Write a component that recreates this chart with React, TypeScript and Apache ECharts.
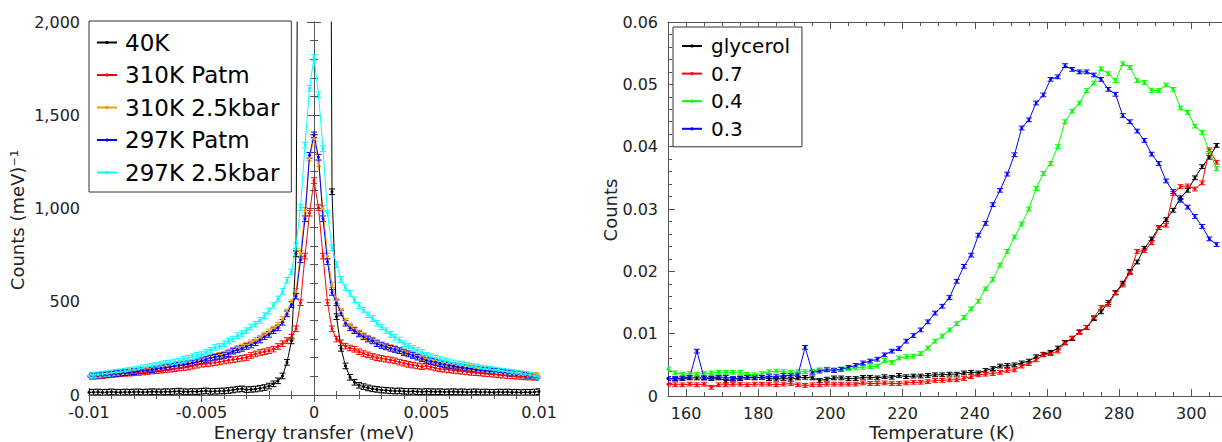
import React, { useEffect, useRef } from "react";
import * as echarts from "echarts";

// ---------- Left panel data ----------
const ENERGY = [
  -0.01, -0.0098, -0.0096, -0.0094, -0.0092, -0.009, -0.0088, -0.0086, -0.0084, -0.0082,
  -0.008, -0.0078, -0.0076, -0.0074, -0.0072, -0.007, -0.0068, -0.0066, -0.0064, -0.0062,
  -0.006, -0.0058, -0.0056, -0.0054, -0.0052, -0.005, -0.0048, -0.0046, -0.0044, -0.0042,
  -0.004, -0.0038, -0.0036, -0.0034, -0.0032, -0.003, -0.0028, -0.0026, -0.0024, -0.0022,
  -0.002, -0.0018, -0.0016, -0.0014, -0.0012, -0.001, -0.0008, -0.0006, -0.0004, -0.0002,
  0,
  0.0002, 0.0004, 0.0006, 0.0008, 0.001, 0.0012, 0.0014, 0.0016, 0.0018, 0.002,
  0.0022, 0.0024, 0.0026, 0.0028, 0.003, 0.0032, 0.0034, 0.0036, 0.0038, 0.004,
  0.0042, 0.0044, 0.0046, 0.0048, 0.005, 0.0052, 0.0054, 0.0056, 0.0058, 0.006,
  0.0062, 0.0064, 0.0066, 0.0068, 0.007, 0.0072, 0.0074, 0.0076, 0.0078, 0.008,
  0.0082, 0.0084, 0.0086, 0.0088, 0.009, 0.0092, 0.0094, 0.0096, 0.0098, 0.01,
];

const K40 = [
  14, 15, 16, 14, 15, 17, 15, 14, 16, 15, 16, 17, 15, 16, 18, 17, 16, 18, 17, 19,
  21, 18, 17, 19, 18, 20, 22, 19, 20, 21, 22, 24, 27, 31, 33, 29, 30, 32, 36, 40,
  48, 60, 76, 102, 175, 290, 757, 5500, 14000, 24000,
  30000,
  25000, 16000, 7000, 1090, 420, 250, 156, 95, 68, 52, 45, 38, 33, 30, 27, 25, 23, 21, 22, 20,
  19, 20, 18, 17, 19, 18, 17, 18, 16, 17, 18, 16, 17, 15, 16, 17, 15, 16, 15, 14,
  16, 15, 16, 14, 15, 13, 15, 14, 16, 18,
];

const K310_PATM = [
  98, 100, 102, 104, 107, 110, 112, 114, 116, 117, 119, 121, 123, 126, 129, 130, 133, 136, 138, 141,
  145, 147, 150, 155, 160, 165, 167, 170, 174, 177, 182, 186, 190, 193, 197, 201, 212, 220, 228, 232,
  238, 246, 260, 275, 292, 310, 355, 495, 745, 975,
  1150,
  1005, 745, 495, 355, 300, 280, 262, 252, 245, 232, 222, 215, 207, 200, 196, 192, 188, 183, 176, 170,
  164, 160, 156, 152, 156, 150, 145, 140, 138, 135, 132, 129, 127, 124, 121, 120, 118, 115, 113, 111,
  108, 106, 104, 103, 101, 99, 97, 96, 95, 93,
];

const K310_25KBAR = [
  100, 103, 106, 109, 111, 113, 116, 118, 121, 124, 126, 129, 132, 135, 138, 141, 145, 148, 152, 157,
  160, 165, 170, 174, 180, 187, 193, 200, 207, 213, 220, 230, 240, 250, 258, 268, 280, 292, 305, 322,
  338, 355, 375, 405, 445, 495, 555, 760, 990, 1270,
  1375,
  1240, 1000, 745, 590, 505, 450, 395, 370, 350, 333, 318, 305, 295, 282, 270, 262, 255, 248, 240, 232,
  225, 216, 208, 200, 192, 186, 180, 174, 168, 163, 159, 155, 152, 148, 145, 141, 138, 135, 131, 130,
  127, 124, 121, 118, 116, 113, 110, 107, 105, 104,
];

const K297_PATM = [
  102, 104, 105, 108, 110, 112, 115, 117, 120, 122, 125, 128, 131, 133, 136, 140, 143, 146, 150, 155,
  158, 162, 167, 172, 178, 183, 190, 198, 203, 208, 213, 222, 235, 242, 250, 260, 268, 280, 295, 312,
  325, 345, 360, 390, 435, 485, 530, 725, 945, 1285,
  1395,
  1275, 945, 715, 550, 495, 440, 385, 360, 345, 327, 312, 300, 290, 275, 265, 258, 250, 244, 237, 227,
  220, 212, 203, 195, 185, 180, 175, 168, 163, 158, 155, 150, 147, 143, 140, 135, 133, 130, 128, 127,
  125, 121, 118, 115, 113, 110, 106, 103, 99, 94,
];

const K297_25KBAR = [
  102, 105, 108, 112, 114, 118, 122, 125, 128, 132, 136, 140, 146, 150, 155, 158, 163, 170, 172, 177,
  182, 190, 197, 205, 212, 220, 230, 240, 255, 262, 275, 290, 300, 318, 330, 345, 365, 380, 400, 425,
  450, 480, 515, 555, 615, 660, 800, 1005, 1340, 1645,
  1810,
  1610, 1320, 975, 790, 700, 620, 575, 545, 510, 480, 455, 430, 410, 385, 365, 345, 325, 310, 295, 275,
  262, 250, 240, 228, 212, 205, 197, 190, 184, 178, 172, 167, 163, 158, 154, 150, 145, 141, 138, 134,
  130, 127, 124, 120, 117, 113, 110, 106, 101, 95,
];

const LEFT_NAMES = ["40K", "310K Patm", "310K 2.5kbar", "297K Patm", "297K 2.5kbar"];
const LEFT_ERR = 15;

// ---------- Right panel data ----------
const TEMPS = [
  155, 157, 159, 161, 163, 165, 167, 169, 171, 173, 175, 177, 179, 181, 183, 185, 187, 189, 191, 193,
  195, 197, 199, 201, 203, 205, 207, 209, 211, 213, 215, 217, 219, 221, 223, 225, 227, 229, 231, 233,
  235, 237, 239, 241, 243, 245, 247, 249, 251, 253, 255, 257, 259, 261, 263, 265, 267, 269, 271, 273,
  275, 277, 279, 281, 283, 285, 287, 289, 291, 293, 295, 297, 299, 301, 303, 305, 307,
];

const GLYCEROL = [
  0.0028, 0.0027, 0.0028, 0.0029, 0.0029, 0.0029, 0.0028, 0.0029, 0.0024, 0.0027,
  0.0028, 0.003, 0.0029, 0.003, 0.0028, 0.0027, 0.0028, 0.0027, 0.0029, 0.003,
  0.0029, 0.0025, 0.0027, 0.0029, 0.0029, 0.0028, 0.0028, 0.003, 0.003, 0.0029,
  0.0031, 0.003, 0.0033, 0.0031, 0.0032, 0.0032, 0.0033, 0.0034, 0.0034, 0.0035,
  0.0035, 0.0037, 0.0038, 0.0037, 0.0041, 0.0044, 0.0048, 0.0049, 0.005, 0.0053,
  0.0056, 0.0063, 0.0067, 0.007, 0.0077, 0.0086, 0.0092, 0.0103, 0.011, 0.0124,
  0.0135, 0.015, 0.0166, 0.0181, 0.02, 0.0215, 0.0237, 0.0252, 0.027, 0.0283,
  0.0298, 0.0318, 0.033, 0.035, 0.0368, 0.0383, 0.0402,
];

const C07 = [
  0.0019, 0.0018, 0.0018, 0.0019, 0.0018, 0.0019, 0.0014, 0.0018, 0.0018, 0.0019,
  0.0019, 0.0018, 0.0019, 0.0019, 0.0019, 0.0018, 0.0019, 0.002, 0.0018, 0.0017,
  0.0018, 0.0018, 0.0019, 0.0019, 0.0019, 0.0019, 0.0019, 0.0021, 0.002, 0.002,
  0.0021, 0.002, 0.002, 0.0021, 0.0022, 0.0022, 0.0023, 0.0025, 0.0025, 0.0026,
  0.0026, 0.0028, 0.0031, 0.0034, 0.0035, 0.0036, 0.0038, 0.0041, 0.0042, 0.0048,
  0.0052, 0.0058, 0.0066, 0.0068, 0.0072, 0.0085, 0.0093, 0.0102, 0.011, 0.0126,
  0.0142, 0.0147, 0.0165, 0.0178, 0.0198, 0.0232, 0.0233, 0.0246, 0.027, 0.0274,
  0.0325, 0.0336, 0.0337, 0.0332, 0.0342, 0.0395, 0.0375,
];

const C04 = [
  0.0043, 0.0037, 0.0035, 0.0036, 0.0035, 0.0036, 0.0037, 0.0038, 0.0038, 0.0038,
  0.0038, 0.0035, 0.0034, 0.0036, 0.0039, 0.004, 0.0039, 0.0038, 0.0039, 0.0039,
  0.004, 0.0042, 0.0043, 0.0042, 0.0043, 0.0044, 0.0045, 0.0046, 0.0047, 0.0048,
  0.0057, 0.0054, 0.0061, 0.0063, 0.0064, 0.0068, 0.0077, 0.0088, 0.0096, 0.0106,
  0.0116, 0.0126, 0.014, 0.0152, 0.0172, 0.0187, 0.021, 0.0232, 0.0255, 0.0276,
  0.03, 0.0333, 0.0357, 0.0373, 0.04, 0.044, 0.0457, 0.047, 0.049, 0.0502,
  0.0525, 0.0517, 0.0506, 0.0533, 0.0527, 0.0506, 0.0503, 0.049, 0.049, 0.0499,
  0.0492, 0.0462, 0.0455, 0.0433, 0.0423, 0.0392, 0.0365,
];

const C03 = [
  0.0028, 0.0028, 0.0029, 0.003, 0.0072, 0.0029, 0.0029, 0.003, 0.003, 0.0028,
  0.0029, 0.003, 0.003, 0.003, 0.0031, 0.0031, 0.0033, 0.0033, 0.0034, 0.0078,
  0.0038, 0.004, 0.0042, 0.0041, 0.0043, 0.0046, 0.0049, 0.0053, 0.0056, 0.0059,
  0.0066, 0.0072, 0.0076, 0.0088, 0.0097, 0.0106, 0.0119, 0.0133, 0.0144, 0.0158,
  0.0184, 0.0208, 0.0226, 0.0258, 0.0277, 0.0307, 0.033, 0.0356, 0.0387, 0.043,
  0.0443, 0.047, 0.0483, 0.0508, 0.0512, 0.053, 0.0524, 0.052, 0.052, 0.0515,
  0.0508, 0.0492, 0.0484, 0.045, 0.044, 0.0425, 0.041, 0.0388, 0.0373, 0.0345,
  0.0328, 0.0314, 0.0303, 0.0288, 0.0272, 0.0252, 0.0243,
];

const RIGHT_NAMES = ["glycerol", "0.7", "0.4", "0.3"];
const RIGHT_ERR = 0.0003;
const TEMP_MAJOR = [160, 180, 200, 220, 240, 260, 280, 300];

const FONT = "DejaVu Sans";
const AXIS_COLOR = "#555";
const TEXT_COLOR = "#222";

function lineSeries(name: string, xs: number[], ys: number[], color: string, xi: number, yi: number) {
  return {
    type: "line",
    name,
    xAxisIndex: xi,
    yAxisIndex: yi,
    data: xs.map((x, i) => [x, ys[i]]),
    symbol: "circle",
    symbolSize: 3,
    showSymbol: true,
    clip: true,
    lineStyle: { width: 1, color },
    itemStyle: { color },
    emphasis: { disabled: true },
    silent: true,
  };
}

function errSeries(name: string, xs: number[], ys: number[], err: number, color: string, xi: number, yi: number) {
  return {
    type: "custom",
    name: name + " error",
    xAxisIndex: xi,
    yAxisIndex: yi,
    clip: true,
    silent: true,
    data: xs.map((x, i) => [x, ys[i], err]),
    encode: { x: 0, y: 1 },
    renderItem: (params: any, api: any) => {
      const x = api.value(0);
      const y = api.value(1);
      const e = api.value(2);
      const top = api.coord([x, y + e]);
      const bot = api.coord([x, y - e]);
      const w = 3;
      const st = { stroke: color, lineWidth: 1 };
      return {
        type: "group",
        children: [
          { type: "line", shape: { x1: top[0], y1: top[1], x2: bot[0], y2: bot[1] }, style: st },
          { type: "line", shape: { x1: top[0] - w, y1: top[1], x2: top[0] + w, y2: top[1] }, style: st },
          { type: "line", shape: { x1: bot[0] - w, y1: bot[1], x2: bot[0] + w, y2: bot[1] }, style: st },
        ],
      };
    },
  };
}

const tickStyle = { color: AXIS_COLOR, width: 1 };
const labelStyle = { color: TEXT_COLOR, fontSize: 16, lineHeight: 16, fontFamily: FONT };

export default function App() {
  const ref = useRef<HTMLDivElement>(null);
  useEffect(() => {
    if (!ref.current) return;
    const chart = echarts.init(ref.current, undefined, { renderer: "svg" });

    const leftColors = ["#000000", "#ff0000", "#ff9900", "#0000ff", "#00ffff"];
    const leftData = [K40, K310_PATM, K310_25KBAR, K297_PATM, K297_25KBAR];
    const rightColors = ["#000000", "#ff0000", "#00ff00", "#0000ff"];
    const rightData = [GLYCEROL, C07, C04, C03];

    const series: any[] = [];
    leftData.forEach((d, i) => {
      series.push(lineSeries(LEFT_NAMES[i], ENERGY, d, leftColors[i], 0, 0));
      series.push(errSeries(LEFT_NAMES[i], ENERGY, d, LEFT_ERR, leftColors[i], 0, 0));
    });
    rightData.forEach((d, i) => {
      series.push(lineSeries(RIGHT_NAMES[i], TEMPS, d, rightColors[i], 2, 2));
      series.push(errSeries(RIGHT_NAMES[i], TEMPS, d, RIGHT_ERR, rightColors[i], 2, 2));
    });

    const leftX = (position: string, showLabel: boolean) => ({
      type: "value",
      gridIndex: 0,
      position,
      min: -0.01,
      max: 0.01,
      interval: 0.005,
      axisLine: { show: true, lineStyle: tickStyle },
      axisTick: { show: true, inside: true, length: 7, lineStyle: tickStyle },
      minorTick: { show: true, splitNumber: 5, length: 4, lineStyle: tickStyle },
      splitLine: { show: false },
      axisLabel: {
        show: showLabel,
        ...labelStyle,
        margin: 9,
        formatter: (v: number) => (v === 0 ? "0" : String(+v.toFixed(3))),
      },
    });
    const leftY = (position: string, showLabel: boolean) => ({
      type: "value",
      gridIndex: 0,
      position,
      min: 0,
      max: 2000,
      interval: 500,
      axisLine: { show: true, lineStyle: tickStyle },
      axisTick: { show: true, inside: true, length: 7, lineStyle: tickStyle },
      minorTick: { show: true, splitNumber: 5, length: 4, lineStyle: tickStyle },
      splitLine: { show: false },
      axisLabel: {
        show: showLabel,
        ...labelStyle,
        margin: 9,
        formatter: (v: number) => v.toLocaleString("en-US"),
      },
    });
    const rightXMinor = (position: string) => ({
      type: "value",
      gridIndex: 1,
      position,
      min: 155,
      max: 308.5,
      interval: 5,
      axisLine: { show: true, lineStyle: tickStyle },
      axisTick: { show: true, inside: true, length: 4, lineStyle: tickStyle },
      splitLine: { show: false },
      axisLabel: { show: false },
    });
    const rightXMajor = (position: string, showLabel: boolean) => ({
      type: "value",
      gridIndex: 1,
      position,
      min: 155,
      max: 308.5,
      axisLine: { show: false },
      axisTick: { show: true, inside: true, length: 7, lineStyle: tickStyle, customValues: TEMP_MAJOR },
      splitLine: { show: false },
      axisLabel: { show: showLabel, ...labelStyle, margin: 9, customValues: TEMP_MAJOR },
    });

    const option: any = {
      animation: false,
      textStyle: { fontFamily: FONT },
      grid: [
        { left: 89, top: 22, width: 450, height: 373 },
        { left: 668, top: 22, width: 556, height: 374 },
      ],
      xAxis: [
        leftX("bottom", true),
        leftX("top", false),
        rightXMinor("bottom"),
        rightXMinor("top"),
        rightXMajor("bottom", true),
        rightXMajor("top", false),
      ],
      yAxis: [
        leftY("left", true),
        leftY("right", false),
        {
          type: "value",
          gridIndex: 1,
          position: "left",
          min: 0,
          max: 0.06,
          interval: 0.01,
          axisLine: { show: true, lineStyle: tickStyle },
          axisTick: { show: true, inside: true, length: 7, lineStyle: tickStyle },
          minorTick: { show: true, splitNumber: 5, length: 4, lineStyle: tickStyle },
          splitLine: { show: false },
          axisLabel: {
            ...labelStyle,
            margin: 10,
            formatter: (v: number) => String(+v.toFixed(2)),
          },
        },
      ],
      legend: [
        {
          data: LEFT_NAMES,
          orient: "vertical",
          left: 89,
          top: 21,
          itemWidth: 20,
          itemHeight: 4,
          itemGap: 9.5,
          padding: [10, 12, 8, 7],
          backgroundColor: "#fff",
          borderColor: "#333",
          borderWidth: 1,
          selectedMode: false,
          textStyle: { fontSize: 23, fontFamily: FONT, color: "#000", padding: [0, 0, 0, 3] },
        },
        {
          data: RIGHT_NAMES,
          orient: "vertical",
          left: 673,
          top: 27,
          itemWidth: 20,
          itemHeight: 4,
          itemGap: 7.6,
          padding: [9, 12, 8, 8],
          backgroundColor: "#fff",
          borderColor: "#333",
          borderWidth: 1,
          selectedMode: false,
          textStyle: { fontSize: 20, fontFamily: FONT, color: "#000", padding: [0, 0, 0, 4] },
        },
      ],
      graphic: [
        {
          type: "text",
          x: 314,
          y: 432,
          style: { text: "Energy transfer (meV)", fontSize: 18, fontFamily: FONT, fill: TEXT_COLOR, align: "center", verticalAlign: "middle" },
        },
        {
          type: "text",
          x: 942,
          y: 432,
          style: { text: "Temperature (K)", fontSize: 18, fontFamily: FONT, fill: TEXT_COLOR, align: "center", verticalAlign: "middle" },
        },
        {
          type: "text",
          x: 17,
          y: 220,
          rotation: Math.PI / 2,
          style: { text: "Counts (meV)\u207B\u00B9", fontSize: 18, fontFamily: FONT, fill: TEXT_COLOR, align: "center", verticalAlign: "middle" },
        },
        {
          type: "text",
          x: 610,
          y: 210,
          rotation: Math.PI / 2,
          style: { text: "Counts", fontSize: 18, fontFamily: FONT, fill: TEXT_COLOR, align: "center", verticalAlign: "middle" },
        },
      ],
      series,
    };
    chart.setOption(option);
    return () => chart.dispose();
  }, []);

  return (
    <div
      ref={ref}
      style={{ position: "fixed", left: 0, top: 0, width: 1222, height: 442, background: "#fff" }}
    />
  );
}
